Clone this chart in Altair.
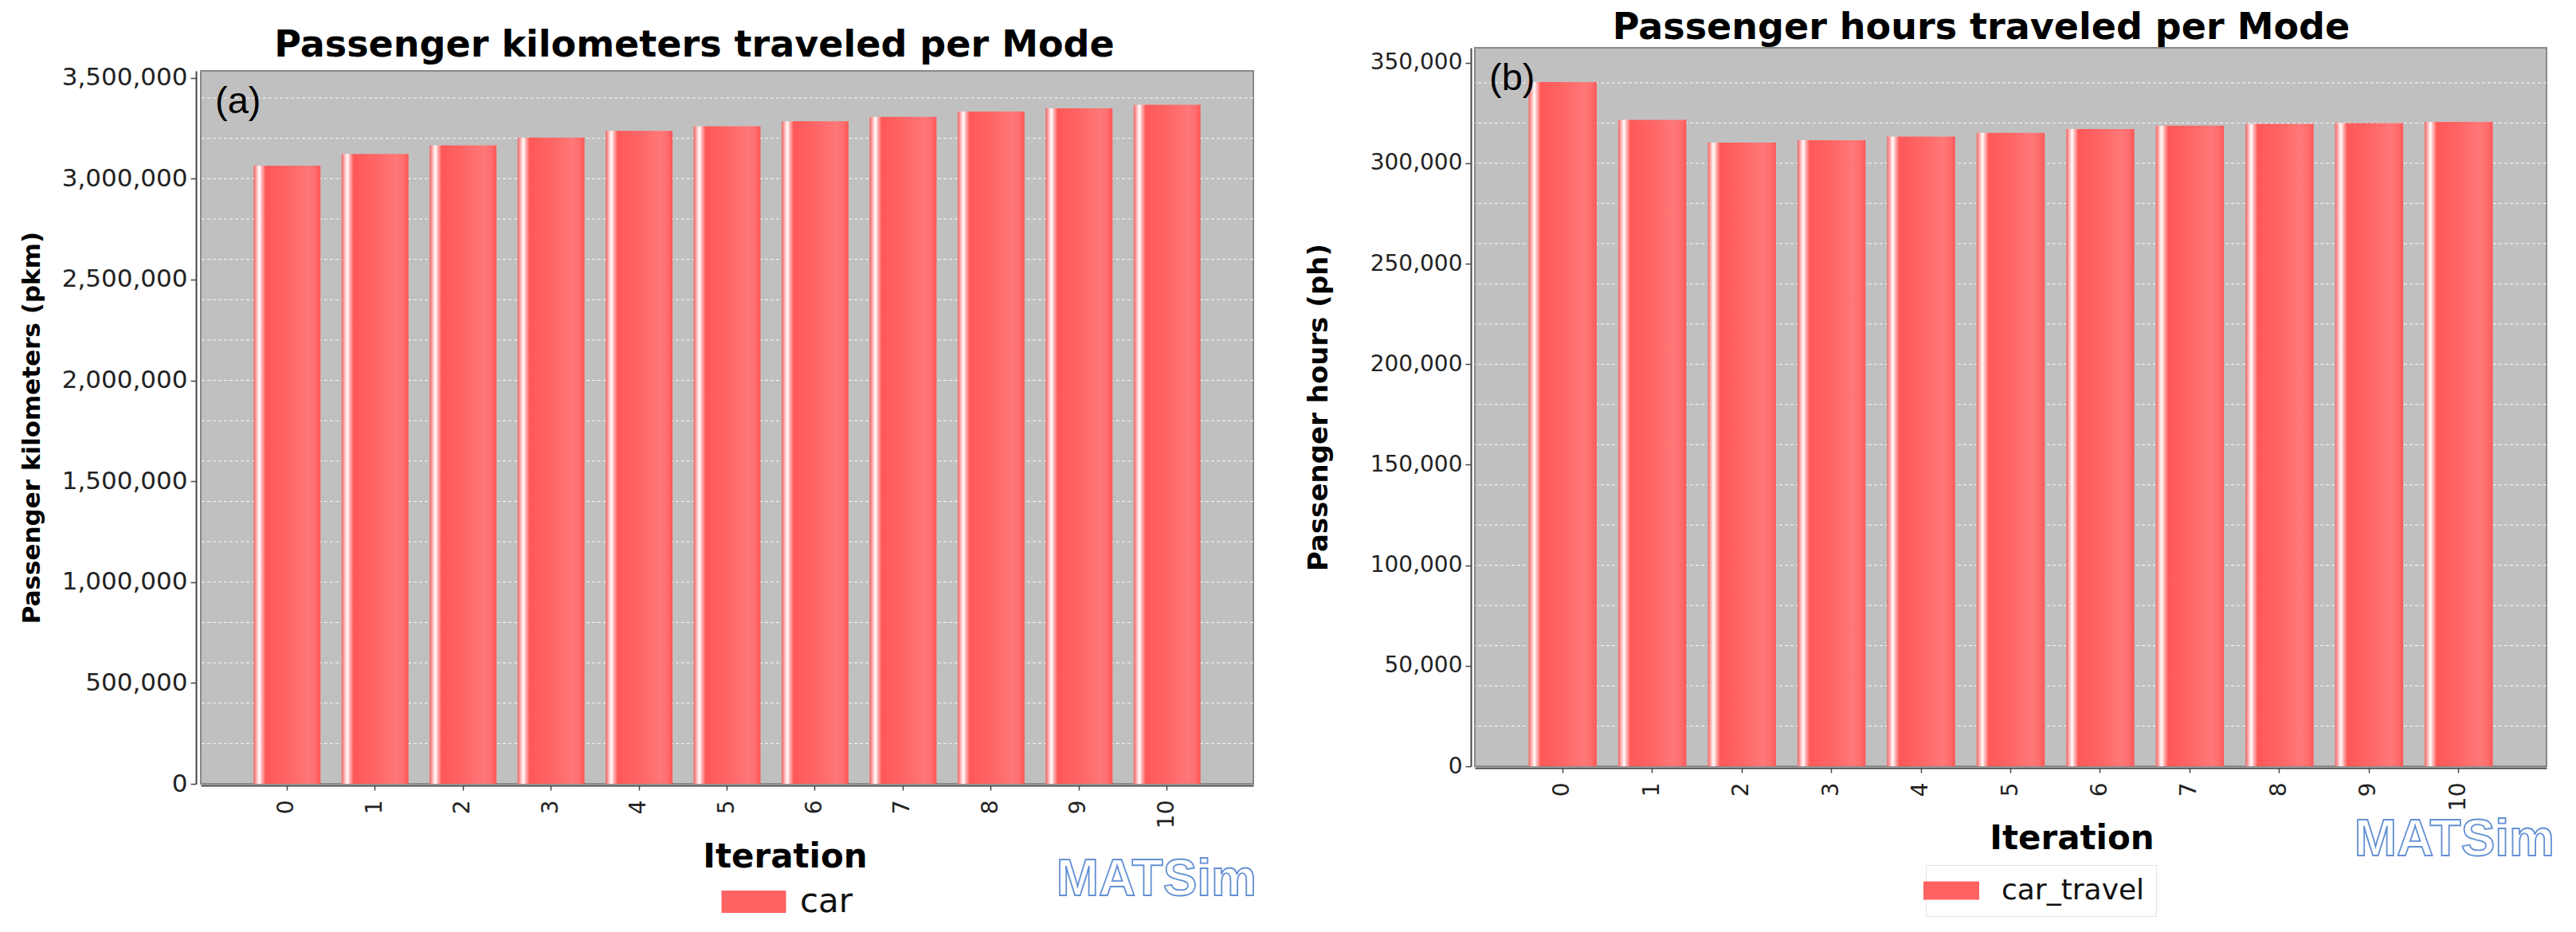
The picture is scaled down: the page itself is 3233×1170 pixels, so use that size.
import altair as alt
import pandas as pd

# ---------------- data ----------------
iterations = [0, 1, 2, 3, 4, 5, 6, 7, 8, 9, 10]
pkm_car = [3064000, 3123000, 3165000, 3204000, 3237000, 3260000,
           3285000, 3306000, 3333000, 3349000, 3366000]
ph_car_travel = [340400, 321600, 310300, 311500, 313200, 315100,
                 317000, 318700, 319600, 320000, 320600]

pkm_ticks = [0, 500000, 1000000, 1500000, 2000000, 2500000, 3000000, 3500000]
ph_ticks = [0, 50000, 100000, 150000, 200000, 250000, 300000, 350000]
pkm_grid = [200000 * k for k in range(1, 18)]
ph_grid = [20000 * k for k in range(1, 18)]

FONT = "DejaVu Sans"

BAR_FILL = alt.Gradient(
    gradient="linear", x1=0, x2=1, y1=0, y2=0,
    stops=[
        alt.GradientStop(offset=0.0, color="#F06464"),
        alt.GradientStop(offset=0.035, color="#FFA0A0"),
        alt.GradientStop(offset=0.085, color="#FFFFFF"),
        alt.GradientStop(offset=0.13, color="#FFA8A8"),
        alt.GradientStop(offset=0.18, color="#FF5858"),
        alt.GradientStop(offset=0.5, color="#FF6565"),
        alt.GradientStop(offset=0.82, color="#FF7878"),
        alt.GradientStop(offset=0.93, color="#FF6C6C"),
        alt.GradientStop(offset=1.0, color="#FF5555"),
    ],
)


def panel(values, mode, ticks, grid, title, ytitle, tag, c):
    df = pd.DataFrame({"iteration": iterations, "value": values,
                       "mode": [mode] * len(values)})
    ymax = max(values) * 1.05
    yscale = alt.Scale(domain=[0, ymax], nice=False, zero=True)
    xscale = alt.Scale(paddingInner=0.24, paddingOuter=0.6)

    yaxis = alt.Axis(
        values=ticks, format=",d", title=ytitle, titleFont=FONT,
        titleFontSize=c["yt_fs"], titleFontWeight="bold", titleColor="black",
        titleX=c["yt_x"], titleY=c["h"] / 2, titleAngle=270,
        titleAlign="center", titleBaseline="alphabetic",
        labelFontSize=c["yl_fs"], labelColor="#222222", labelPadding=4,
        tickSize=7, tickColor="#444444", tickWidth=1.5,
        domainColor="#444444", domainWidth=2, offset=c["yoff"], grid=False)

    grid_layer = alt.Chart(pd.DataFrame({"value": grid})).mark_rule(
        color="white", strokeDash=[4, 3], strokeWidth=1, opacity=0.9
    ).encode(y=alt.Y("value:Q", scale=yscale, axis=yaxis))

    bars = alt.Chart(df).mark_bar(color=BAR_FILL).encode(
        x=alt.X("iteration:O", scale=xscale, axis=alt.Axis(
            title="Iteration", titleFont=FONT, titleFontSize=42,
            titleFontWeight="bold", titleColor="black",
            titleX=c["xt_x"], titleY=c["xt_y"], titleAlign="center",
            titleBaseline="alphabetic", titleAngle=0,
            labelAngle=270, labelFontSize=28, labelColor="#222222",
            labelPadding=12, tickSize=6, tickColor="#444444", tickWidth=1.5,
            domainColor="#444444", domainWidth=2, offset=2, grid=False)),
        y=alt.Y("value:Q", scale=yscale, axis=yaxis),
    )

    legend_layer = alt.Chart(df).mark_square(opacity=0).encode(
        color=alt.Color("mode:N", scale=alt.Scale(range=["#FF6262"]),
                        legend=alt.Legend(
                            title=None, orient="none",
                            legendX=c["lx"], legendY=c["ly"],
                            symbolType=c["sym"], symbolSize=c["symsize"],
                            symbolFillColor="#FF6262", symbolStrokeWidth=0,
                            symbolOpacity=1, labelFont=FONT,
                            labelFontSize=c["lfs"], labelColor="#111111",
                            labelOffset=c["loff"], labelLimit=600,
                            padding=c["lpad"], strokeColor=c["lstroke"]))
    )

    tag_layer = alt.Chart(pd.DataFrame({"t": [tag]})).mark_text(
        align="left", baseline="alphabetic", font="Liberation Sans",
        fontSize=47, color="black"
    ).encode(text="t:N", x=alt.value(18), y=alt.value(53))

    logo = alt.Chart(pd.DataFrame({"t": ["MATSim"]})).mark_text(
        align="right", baseline="alphabetic", font="Liberation Sans",
        fontWeight="bold", fontSize=64, fill="white", stroke="#6390D4",
        strokeWidth=1.8
    ).encode(text="t:N", x=alt.value(c["logo_x"]), y=alt.value(c["logo_y"]))

    return alt.layer(grid_layer, bars, legend_layer, tag_layer, logo).properties(
        width=c["w"], height=c["h"],
        title=alt.Title(text=title, font=FONT, fontSize=46, fontWeight="bold",
                        color="black", anchor="middle", dx=c["tdx"], offset=1),
        view=alt.ViewBackground(fill="#C0C0C0", stroke="#888888", strokeWidth=2),
    )


def spacer(h):
    return alt.Chart(pd.DataFrame({"s": [0]})).mark_point(opacity=0, size=1).encode(
        x=alt.value(0.5), y=alt.value(h / 2)
    ).properties(width=1, height=h,
                 view=alt.ViewBackground(fill="transparent", stroke="transparent"))


cfg_a = dict(w=1321, h=895, yoff=6, yt_fs=31, yt_x=-197, yl_fs=31,
             xt_x=733, xt_y=102, lx=673, ly=1022,
             sym="M-2,-0.69H2V0.69H-2Z", symsize=1640, lfs=42, loff=37,
             lpad=0, lstroke="transparent", logo_x=1325, logo_y=1035, tdx=-41)
cfg_b = dict(w=1345, h=902, yoff=5, yt_fs=34, yt_x=-181, yl_fs=28,
             xt_x=749, xt_y=101, lx=566, ly=1026,
             sym="M-2,-0.66H2V0.66H-2Z", symsize=1225, lfs=36, loff=45,
             lpad=14, lstroke="#E2E2E2", logo_x=1355, logo_y=1014, tdx=-37)

panel_a = panel(pkm_car, "car", pkm_ticks, pkm_grid,
                "Passenger kilometers traveled per Mode",
                "Passenger kilometers (pkm)", "(a)", cfg_a)
panel_b = panel(ph_car_travel, "car_travel", ph_ticks, ph_grid,
                "Passenger hours traveled per Mode",
                "Passenger hours (ph)", "(b)", cfg_b)

col_a = alt.vconcat(spacer(22), panel_a, spacing=0).resolve_scale(
    color="independent").resolve_legend(color="independent")
col_b = alt.vconcat(spacer(1), panel_b, spacing=0).resolve_scale(
    color="independent").resolve_legend(color="independent")

chart = alt.hconcat(col_a, col_b, spacing=59).resolve_scale(
    x="independent", y="independent", color="independent"
).resolve_legend(color="independent").properties(
    padding={"left": 15, "top": 0, "right": 5, "bottom": 5}
).configure(font=FONT).configure_view(stroke="transparent")

chart.save("out.html", embed_options={"renderer": "svg", "actions": False})
